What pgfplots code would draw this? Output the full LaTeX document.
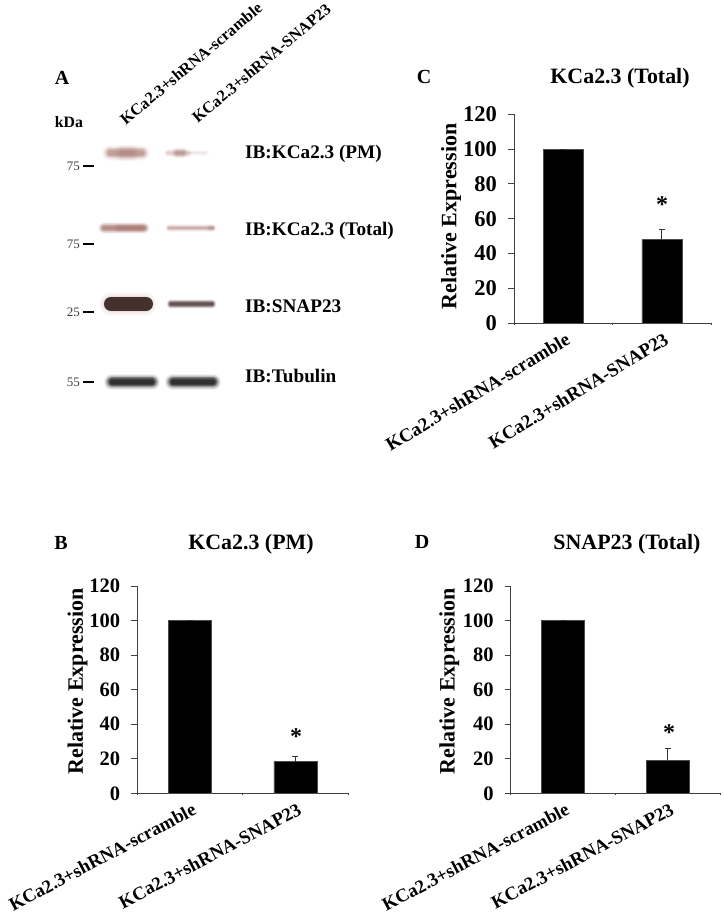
\documentclass[border=0pt]{standalone}
\usepackage{fontspec}
\setmainfont{Liberation Serif}
\usepackage{pgfplots}
\pgfplotsset{compat=1.18}

\definecolor{pmband}{HTML}{A87870}
\definecolor{snapband}{HTML}{46302E}
\definecolor{tubband}{HTML}{141414}
\definecolor{axisgrey}{HTML}{404040}

% soft blot band: layered strokes, x1 x2 y thickness colour opacity
\newcommand{\bandlayer}[7]{%
  \addplot[draw=#5,line width=#7*#4pt,line cap=round,opacity=#1*#6,forget plot] coordinates {#2 #3};
}
\newcommand{\band}[6]{%
  \bandlayer{0.06}{(#1,#3)}{(#2,#3)}{#4}{#5}{#6}{1.35}
  \bandlayer{0.10}{(#1,#3)}{(#2,#3)}{#4}{#5}{#6}{1.2}
  \bandlayer{0.15}{(#1,#3)}{(#2,#3)}{#4}{#5}{#6}{1.05}
  \bandlayer{0.20}{(#1,#3)}{(#2,#3)}{#4}{#5}{#6}{0.9}
  \bandlayer{0.25}{(#1,#3)}{(#2,#3)}{#4}{#5}{#6}{0.75}
  \bandlayer{0.30}{(#1,#3)}{(#2,#3)}{#4}{#5}{#6}{0.6}
  \bandlayer{0.35}{(#1,#3)}{(#2,#3)}{#4}{#5}{#6}{0.45}
  \bandlayer{0.40}{(#1,#3)}{(#2,#3)}{#4}{#5}{#6}{0.3}
}
% marker tick on the blot
\newcommand{\marker}[2]{%
  \addplot[black,line width=2.2pt,forget plot] coordinates {(83,#1) (94,#1)};
  \node[anchor=east,font=\fontsize{13}{13}\selectfont,text=black!75,inner sep=0pt] at (axis cs:80,#1) {#2};
}

\pgfplotsset{
  pixelframe/.style={
    at={(0pt,0pt)},anchor=south west,
    scale only axis,width=723pt,height=915pt,
    xmin=0,xmax=723,ymin=0,ymax=915,y dir=reverse,
    hide axis,clip=false,
  },
  barpanel/.style={
    scale only axis,
    anchor=south west,
    ybar,
    ymin=0,ymax=120,
    xmin=0.5,xmax=2.5,
    ytick={0,20,...,120},
    xtick={1,2},
    minor xtick={0.5,1.5,2.5},
    xticklabels={KCa2.3+shRNA-scramble,KCa2.3+shRNA-SNAP23},
    axis x line*=bottom,
    axis y line*=left,
    axis line style={axisgrey,line width=0.8pt,-},
    tick align=outside,
    major tick length=6pt,
    minor tick length=2pt,
    major x tick style={draw=none},
    minor x tick style={axisgrey,line width=0.6pt},
    y tick style={axisgrey,line width=0.8pt},
    /pgf/number format/assume math mode=true,
    yticklabel style={font=\fontsize{20.5}{22}\selectfont\bfseries,inner sep=1pt,xshift=-10pt},
    xticklabel style={font=\fontsize{18.7}{18}\selectfont\bfseries,rotate=28,anchor=north east,inner sep=0pt,yshift=-3pt},
    ylabel={Relative Expression},
    ylabel style={font=\fontsize{22}{22}\selectfont\bfseries,inner sep=0pt},
    clip=false,
  },
  barplot/.style={fill=black,draw=black!70,line width=0.5pt,
    error bars/.cd,y dir=plus,y explicit,
    error bar style={black!80,line width=0.8pt},
    error mark options={rotate=90,mark size=3pt,black!80,line width=0.8pt}},
}

\begin{document}
\begin{tikzpicture}[x=1pt,y=1pt]
\useasboundingbox (0,0) rectangle (723,915);

% panel A blot and all free text, in picture pixels
\begin{axis}[pixelframe]
% KCa2.3 (PM)
\band{110}{142}{153}{12}{pmband}{0.62}
\band{122}{132}{153}{13}{pmband}{0.35}
\band{168}{188}{153}{7}{pmband}{0.22}
\band{177}{183}{153}{9}{pmband}{0.5}
\band{190}{206}{153}{5}{pmband}{0.1}
% KCa2.3 (Total)
\band{104}{144}{228}{9}{pmband}{0.9}
\band{118}{142}{228}{7}{pmband}{0.45}
\band{169}{212}{228}{6}{pmband}{0.45}
\band{210}{213}{228}{6}{pmband}{0.3}
% SNAP23
\band{111}{145}{304}{18}{pmband}{0.5}
\addplot[draw=snapband,line width=14pt,line cap=round,forget plot] coordinates {(111,304) (146,304)};
\band{171}{212}{304}{7}{snapband}{0.85}
% Tubulin
\band{112}{152}{382}{12}{tubband}{1}
\band{173}{213}{382}{12}{tubband}{1}

\marker{166}{75}
\marker{244}{75}
\marker{312}{25}
\marker{382}{55}

\node[font=\fontsize{15.8}{16}\selectfont\bfseries,anchor=center,inner sep=0pt] at (axis cs:69,122) {kDa};

\begin{scope}[font=\fontsize{19.2}{19}\selectfont\bfseries,inner sep=0pt]
\node[anchor=west] at (axis cs:245,154) {IB:KCa2.3 (PM)};
\node[anchor=west] at (axis cs:245,231) {IB:KCa2.3 (Total)};
\node[anchor=west] at (axis cs:245,306) {IB:SNAP23};
\node[anchor=west] at (axis cs:245,376) {IB:Tubulin};
\end{scope}

\node[font=\fontsize{16.1}{16}\selectfont\bfseries,rotate=40,anchor=south west,inner sep=0pt] at (axis cs:126,126) {KCa2.3+shRNA-scramble};
\node[font=\fontsize{16.1}{16}\selectfont\bfseries,rotate=40,anchor=south west,inner sep=0pt] at (axis cs:198,124) {KCa2.3+shRNA-SNAP23};

\begin{scope}[font=\fontsize{20}{20}\selectfont\bfseries,inner sep=0pt]
\node at (axis cs:62,78) {A};
\node at (axis cs:61,543) {B};
\node at (axis cs:424,77) {C};
\node at (axis cs:422,542) {D};
\end{scope}
\begin{scope}[font=\fontsize{21.9}{22}\selectfont\bfseries,inner sep=0pt]
\node at (axis cs:620,78) {KCa2.3 (Total)};
\node at (axis cs:251,544) {KCa2.3 (PM)};
\node at (axis cs:627,544) {SNAP23 (Total)};
\end{scope}
\end{axis}

% panel C
\begin{axis}[barpanel,at={(514pt,592pt)},width=197pt,height=208.7pt,bar width=40pt,
  yticklabel style={font=\fontsize{22.5}{22}\selectfont\bfseries},
  xticklabel style={rotate=3,font=\fontsize{18.9}{18}\selectfont\bfseries},
  ylabel style={at={(axis description cs:-0.32,0.51)},rotate=0,anchor=center}]
\addplot[barplot] table[x=cat,y=val,y error=err] {
cat val err
1 100 0
2 48 6
};
\end{axis}

% panel B
\begin{axis}[barpanel,at={(137.3pt,121.7pt)},width=210.7pt,height=207.3pt,bar width=43pt,
  ylabel style={at={(axis description cs:-0.283,0.54)},anchor=center}]
\addplot[barplot] table[x=cat,y=val,y error=err] {
cat val err
1 100 0
2 18.3 3.2
};
\end{axis}

% panel D
\begin{axis}[barpanel,at={(510.7pt,121.7pt)},width=209.3pt,height=207.3pt,bar width=43pt,
  ylabel style={at={(axis description cs:-0.293,0.54)},anchor=center}]
\addplot[barplot] table[x=cat,y=val,y error=err] {
cat val err
1 100 0
2 19 7
};
\end{axis}

% asterisks, same pixel frame as the blot
\begin{axis}[pixelframe]
\node[font=\fontsize{24}{24}\selectfont\bfseries,inner sep=0pt] at (axis cs:662,205) {*};
\node[font=\fontsize{24}{24}\selectfont\bfseries,inner sep=0pt] at (axis cs:296,737) {*};
\node[font=\fontsize{24}{24}\selectfont\bfseries,inner sep=0pt] at (axis cs:669,733) {*};
\end{axis}
\end{tikzpicture}
\end{document}
